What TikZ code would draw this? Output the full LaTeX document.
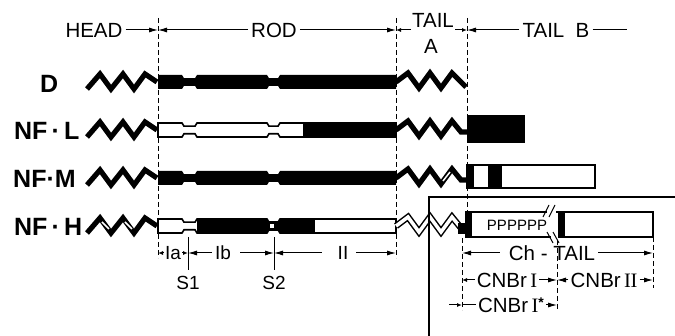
\documentclass[tikz,border=0pt]{standalone}
\usepackage{fontspec}
\setmainfont{Liberation Sans}
\newfontfamily\serifnum{Liberation Serif}
\usetikzlibrary{arrows.meta}

% rod with two linkers, centred on y=0
\newcommand{\rodshape}[1]{\path[#1] (158,-7) -- (182,-7) -- (184,-3.8) -- (195,-3.8) -- (197,-7) -- (267,-7) -- (269,-3.8) -- (278,-3.8) -- (280,-7) -- (396,-7) -- (396,7) -- (280,7) -- (278,3.8) -- (269,3.8) -- (267,7) -- (197,7) -- (195,3.8) -- (184,3.8) -- (182,7) -- (158,7) -- cycle;}
\newcommand{\headzig}[1]{\draw[#1] (87,7) -- (100,-8) -- (111,7) -- (123,-8) -- (134,7) -- (145,-8) -- (157,0);}
\newcommand{\tailzig}[2]{\draw[#1] (396,0) -- (408,-9) -- (419,6) -- (430,-9) -- (441,6) -- (452,-9) -- #2;}
\newcommand{\rI}{{\serifnum I}}

\begin{document}
\begin{tikzpicture}[
    x=1pt, y=-1pt,
    zig/.style={line width=5.2pt, line join=miter},
    guide/.style={line width=0.8pt, dash pattern=on 5pt off 3pt},
    dim/.style={line width=1pt},
    dimar/.style={dim, -{Latex[length=9pt,width=5pt]}},
    tinyar/.style={dim, -{Latex[length=5pt,width=4pt]}},
    lbl/.style={font=\fontsize{20.5}{21}\selectfont, inner sep=3pt},
    dimlbl/.style={font=\fontsize{19}{19}\selectfont, inner sep=3pt},
    rowlbl/.style={font=\bfseries\fontsize{25}{25}\selectfont, anchor=west, inner sep=0pt},
    boxln/.style={line width=1.8pt}
]
    \useasboundingbox (0,0) rectangle (675,336);

    % Guias
    \coordinate (g1t) at (158,18);  \coordinate (g1b) at (158,258);
    \coordinate (g2t) at (396,18);  \coordinate (g2b) at (396,258);
    \coordinate (g3t) at (467,18);  \coordinate (g3b) at (467,212);
    \coordinate (g4t) at (462,238); \coordinate (g4b) at (462,310);
    \coordinate (g5t) at (557,240); \coordinate (g5b) at (557,310);
    \coordinate (g6t) at (653,237); \coordinate (g6b) at (653,288);
    \foreach \g in {1,...,6}
        \draw[guide] (g\g t) -- (g\g b);

    % Cabecalho
    \node[lbl] (head) at (94,30) {HEAD};
    \node[lbl] (rod) at (274,30) {ROD};
    \node[lbl, inner sep=0pt] (taila) at (433,20) {TAIL};
    \node[lbl, inner sep=0pt] (tailaa) at (431,46) {A};
    \node[lbl] (tailb) at (556,30) {TAIL\ \ B};
    \coordinate (g1h) at (158,30);
    \coordinate (g2h) at (396,30);
    \coordinate (g3h) at (467,30);
    \coordinate (tal) at (411,30);
    \coordinate (tar) at (455,30);
    \coordinate (tbend) at (627,30);
    \draw[dimar] (head) -- (g1h);
    \draw[dimar] (rod) -- (g1h);
    \draw[dimar] (rod) -- (g2h);
    \draw[tinyar] (tal) -- (g2h);
    \draw[tinyar] (tar) -- (g3h);
    \draw[dimar] (tailb) -- (g3h);
    \draw[dim] (tailb) -- (tbend);

    % Linhas
    \node[rowlbl] (d) at (40,84) {D};
    \node[rowlbl] (nfl) at (14,131) {NF\,·\,L};
    \node[rowlbl] (nfm) at (13,179) {NF·M};
    \node[rowlbl] (nfh) at (14,227) {NF\,·\,H};

    % D
    \begin{scope}[shift={(0,82)}]
        \headzig{zig}
        \rodshape{fill=black}
        \tailzig{zig}{(466,5)}
    \end{scope}

    % NF-L
    \begin{scope}[shift={(0,130)}]
        \headzig{zig}
        \rodshape{fill=white, draw=black, line width=1.6pt}
        \fill (303,-7.8) rectangle (396,7.8);
        \tailzig{zig}{(461,2) -- (468,2)}
    \end{scope}
    \fill (467,115) rectangle (525,143);

    % NF-M
    \begin{scope}[shift={(0,178)}]
        \headzig{zig}
        \rodshape{fill=black}
        \tailzig{zig}{(461,2) -- (468,2)}
        \draw[white, line width=1.5pt] (443,3) -- (450,-6);
    \end{scope}
    \draw[boxln, fill=white] (467,165) rectangle (595,188);
    \fill (466,164.1) rectangle (474,188.9);
    \fill (488,164.1) rectangle (502,188.9);

    % NF-H
    \begin{scope}[shift={(0,226)}]
        \headzig{zig}
        \draw[white, line width=1.5pt] (102,-4) -- (109,3);
        \draw[white, line width=1.5pt] (125,-4) -- (132,3);
        \rodshape{fill=white, draw=black, line width=1.6pt}
        \fill (197,-7.8) rectangle (267,7.8);
        \fill (267,-4.6) rectangle (280,4.6);
        \fill[white] (270,-2) rectangle (274,2);
        \fill (280,-7.8) rectangle (315,7.8);
        \tailzig{line width=6.5pt, line join=miter}{(461,2) -- (466,2)}
        \tailzig{white, line width=3.5pt, line join=miter}{(461,2) -- (466,2)}
    \end{scope}
    \fill[white] (472,212) rectangle (653,237);
    \draw[boxln] (547,212) -- (472,212);
    \draw[boxln] (472,237) -- (551,237);
    \draw[boxln] (556,212) -- (653,212) -- (653,237) -- (560,237);
    \fill (465,211.1) rectangle (472,237.9);
    \fill (458,223) rectangle (466,234);
    \fill (558,211.1) rectangle (565,237.9);
    \node[font=\fontsize{15}{15}\selectfont, inner sep=0pt] (ppp) at (517,225) {PPPPPP};
    \draw[line width=1pt] (543,217) -- (549,205);
    \draw[line width=1pt] (549,217) -- (555,205);
    \draw[line width=1pt] (547,232) -- (553,243);
    \draw[line width=1pt] (553,232) -- (559,243);

    % Moldura
    \coordinate (frb) at (429,336);
    \coordinate (frc) at (429,197);
    \coordinate (frr) at (675,197);
    \draw[line width=1.2pt] (frb) -- (frc) -- (frr);

    % Segmentos do bastao
    \coordinate (g1a) at (158,253);
    \coordinate (s1a) at (188,253);
    \coordinate (s2a) at (274,253);
    \coordinate (g2a) at (396,253);
    \node[dimlbl, inner sep=1pt] (ia) at (173,253) {Ia};
    \node[dimlbl] (ib) at (223,253) {Ib};
    \node[dimlbl, inner sep=8pt] (ii) at (343,253) {II};
    \draw[tinyar] (ia) -- (g1a);
    \draw[tinyar] (ia) -- (s1a);
    \draw[dimar] (ib) -- (s1a);
    \draw[dimar, shorten <=6pt] (ib) -- (s2a);
    \draw[dimar, shorten <=8pt] (ii) -- (s2a);
    \draw[dimar] (ii) -- (g2a);
    \coordinate (s1t) at (188,237); \coordinate (s1b) at (188,270);
    \coordinate (s2t) at (274,237); \coordinate (s2b) at (274,270);
    \draw[dim] (s1t) -- (s1b);
    \draw[dim] (s2t) -- (s2b);
    \node[dimlbl] (s1) at (188,283) {S1};
    \node[dimlbl] (s2) at (274,283) {S2};

    % Cauda
    \coordinate (g4a) at (462,253); \coordinate (g6a) at (653,253);
    \coordinate (g4c) at (462,280); \coordinate (g5c) at (557,280); \coordinate (g6c) at (653,280);
    \coordinate (g4d) at (462,305); \coordinate (g5d) at (557,305); \coordinate (cst) at (449,305);
    \node[lbl] (ch) at (552,253) {Ch - TAIL};
    \node[lbl, inner sep=2pt] (cn1) at (507,280) {CNBr\,\rI};
    \node[lbl, inner sep=2pt] (cn2) at (604,280) {CNBr\,\rI\kern-0.5pt\rI};
    \node[lbl, inner sep=2pt] (cn1s) at (511,305) {CNBr\,\rI\raisebox{5pt}{\bfseries\fontsize{14}{14}\selectfont *}};
    \draw[dimar, shorten <=6pt] (ch) -- (g4a);
    \draw[dimar] (ch) -- (g6a);
    \draw[tinyar] (cn1) -- (g4c);
    \draw[dimar] (cn1) -- (g5c);
    \draw[dimar] (cn2) -- (g5c);
    \draw[dimar] (cn2) -- (g6c);
    \draw[dim] (cn1s) -- (g4d);
    \draw[tinyar] (cst) -- (g4d);
    \draw[dimar] (cn1s) -- (g5d);
\end{tikzpicture}
\end{document}
